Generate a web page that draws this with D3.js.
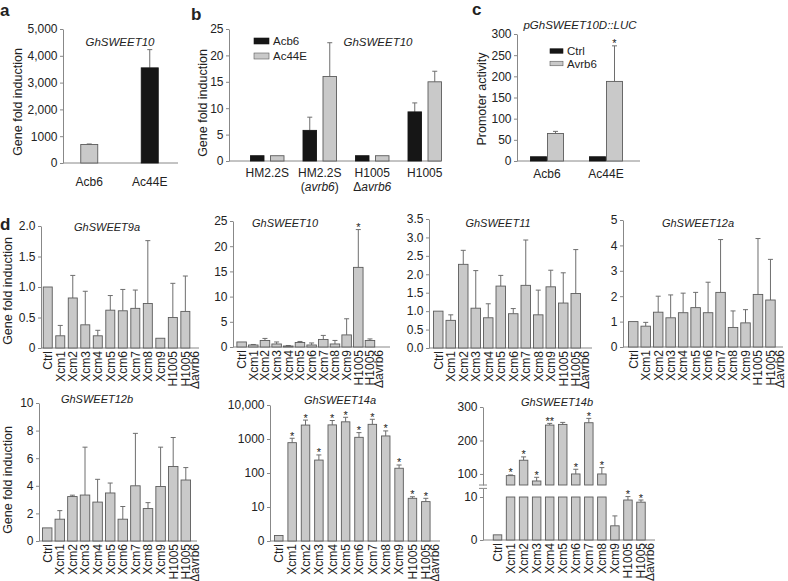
<!DOCTYPE html>
<html>
<head>
<meta charset="utf-8">
<script src="https://cdn.jsdelivr.net/npm/d3@7"></script>
<style>
  body { margin: 0; background: #fff; }
  text { font-family: "Liberation Sans", Arial, sans-serif; fill: #222; }
</style>
</head>
<body>
<svg id="fig" width="788" height="581"></svg>
<script>
// ---- data ----
// panel a
const aCats = ["Acb6", "Ac44E"];
const aVals = [690, 3550];
const aErr = [710, 4230];
const aTicks = [0, 1000, 2000, 3000, 4000, 5000];
const aTickLabels = ["0", "1000", "2,000", "3,000", "4,000", "5,000"];

// panel b
const bCats = ["HM2.2S", "HM2.2S\n(avrb6)", "H1005\nΔavrb6", "H1005"];
const bSeries = ["Acb6", "Ac44E"];
const bAcb6 = [1, 5.8, 1, 9.3];
const bAcb6Err = [null, 8.3, null, 11];
const bAc44E = [1, 16, 1, 15];
const bAc44EErr = [null, 22.4, null, 17];

// panel c
const cCats = ["Acb6", "Ac44E"];
const cSeries = ["Ctrl", "Avrb6"];
const cCtrl = [10, 10];
const cAvrb6 = [65, 188];
const cAvrb6Err = [70, 272];
const cAvrb6Stars = ["", "*"];

// panel d
const dCats = ["Ctrl", "Xcm1", "Xcm2", "Xcm3", "Xcm4", "Xcm5", "Xcm6", "Xcm7", "Xcm8", "Xcm9", "H1005", "H1005\nΔavrb6"];
const sweet9a = [1.0, 0.2, 0.82, 0.38, 0.2, 0.62, 0.61, 0.65, 0.73, 0.16, 0.5, 0.6];
const sweet9aErr = [null, 0.37, 1.19, 0.93, 0.29, 0.86, 0.96, 0.95, 1.76, null, 1.06, 1.18];
const sweet10 = [1.0, 0.4, 1.3, 0.6, 0.2, 0.9, 0.4, 1.5, 0.6, 2.4, 15.8, 1.3];
const sweet10Err = [null, 0.5, 1.7, 1.0, 0.3, 1.1, 0.8, 2.3, 1.3, 5.6, 23.3, 1.6];
const sweet10Stars = ["", "", "", "", "", "", "", "", "", "", "*", ""];
const sweet11 = [1.0, 0.75, 2.27, 1.08, 0.82, 1.68, 0.93, 1.7, 0.9, 1.66, 1.22, 1.48];
const sweet11Err = [null, 0.9, 2.65, 2.1, 1.2, 1.97, 1.07, 2.93, 1.57, 2.11, 2.04, 2.67];
const sweet12a = [1.0, 0.82, 1.37, 1.15, 1.35, 1.55, 1.35, 2.15, 0.77, 0.95, 2.07, 1.85];
const sweet12aErr = [null, 0.97, 2.0, 2.05, 2.12, 2.15, 2.55, 4.23, 1.42, 1.47, 4.27, 3.45];
const sweet12b = [0.95, 1.58, 3.22, 3.33, 2.82, 3.48, 1.58, 4.0, 2.35, 3.95, 5.4, 4.42];
const sweet12bErr = [null, 2.2, 3.32, 6.8, 4.47, 4.2, 2.5, 7.8, 2.78, 6.8, 7.5, 5.32];
const sweet14a = [1.45, 780, 2570, 240, 2600, 3200, 1120, 2700, 1230, 138, 18, 14.4];
const sweet14aErr = [null, 1050, 3600, 340, 3500, 4350, 1540, 3800, 1730, 172, 20, 18];
const sweet14aStars = ["", "*", "*", "*", "*", "*", "*", "*", "*", "*", "*", "*"];
const sweet14aTicks = [1, 10, 100, 1000, 10000];
const sweet14aTickLabels = ["0", "10", "100", "1000", "10,000"];
const sweet14b = [1.2, 95, 141, 79, 246, 248, 100, 253, 100, 3.3, 9.3, 8.8];
const sweet14bErr = [null, 97, 151, 90, 251, 254, 114, 266, 119, 5.6, 10.1, 9.3];
const sweet14bStars = ["", "*", "*", "*", "**", "", "*", "*", "*", "", "*", "*"];

// ---- style ----
const axisCol = "#888", barFill = "#c9c9c9", barLine = "#5c5c5c", errCol = "#6e6e6e", black = "#161616";
const fontFam = '"Liberation Sans", Arial, sans-serif';

const svg = d3.select("#fig");

function yAxis(scale, xPos, ticks, fmt) {
  const g = svg.append("g").attr("transform", `translate(${xPos},0)`)
    .call(d3.axisLeft(scale).tickValues(ticks)
      .tickFormat(Array.isArray(fmt) ? (d, i) => fmt[i] : fmt)
      .tickSize(3).tickPadding(2.5).tickSizeOuter(0))
    .attr("font-family", fontFam).attr("font-size", 12);
  g.select(".domain").attr("stroke", axisCol);
  g.selectAll(".tick line").attr("stroke", axisCol);
  g.selectAll(".tick text").attr("fill", "#222");
  return g;
}

function baseLine(x0, x1, y0) {
  svg.append("line").attr("x1", x0).attr("x2", x1).attr("y1", y0).attr("y2", y0)
    .attr("stroke", axisCol);
}

function bars(x, y, cats, vals, errs, o) {
  const off = o.offset || 0, w = o.width, base = o.base || 0;
  const rows = cats.map((c, i) => ({ c, v: vals[i], e: errs ? errs[i] : null }))
    .filter(d => d.v != null);
  const cx = d => x(d.c) + x.bandwidth() / 2 + off;
  const g = svg.append("g");
  const er = rows.filter(d => d.e != null);
  g.selectAll("line.err").data(er).join("line").attr("class", "err")
    .attr("x1", cx).attr("x2", cx).attr("y1", d => y(d.v)).attr("y2", d => y(d.e))
    .attr("stroke", errCol).attr("stroke-width", 1);
  g.selectAll("line.cap").data(er).join("line").attr("class", "cap")
    .attr("x1", d => cx(d) - 2.5).attr("x2", d => cx(d) + 2.5)
    .attr("y1", d => y(d.e)).attr("y2", d => y(d.e))
    .attr("stroke", errCol).attr("stroke-width", 1);
  g.selectAll("rect").data(rows).join("rect")
    .attr("x", d => cx(d) - w / 2).attr("y", d => y(d.v))
    .attr("width", w).attr("height", d => y(base) - y(d.v))
    .attr("fill", o.fill || barFill).attr("stroke", o.stroke || barLine).attr("stroke-width", 0.9);
}

function stars(x, y, cats, tops, marks, off) {
  const rows = cats.map((c, i) => ({ c, t: tops[i], m: marks[i] })).filter(d => d.m && d.t != null);
  svg.append("g").selectAll("text").data(rows).join("text")
    .attr("x", d => x(d.c) + x.bandwidth() / 2 + (off || 0))
    .attr("y", d => y(d.t) + 1.5)
    .attr("text-anchor", "middle").attr("font-size", 11).text(d => d.m);
}

function richLine(parent, str, italic) {
  str.split(/(avrb6)/).filter(s => s).forEach(p => {
    parent.append("tspan").attr("font-style", italic && p === "avrb6" ? "italic" : null).text(p);
  });
}

function xLabels(x, y0, gap, italic) {
  const g = svg.append("g").attr("transform", `translate(0,${y0})`)
    .call(d3.axisBottom(x).tickSize(0).tickFormat(() => ""))
    .attr("font-family", fontFam).attr("font-size", 12);
  g.select(".domain").remove();
  g.selectAll(".tick text").attr("y", gap).attr("dy", null).attr("fill", "#222")
    .each(function (d) {
      d.split("\n").forEach((ln, i) => {
        const ts = d3.select(this).append("tspan").attr("x", 0).attr("dy", i ? "1.17em" : 0);
        richLine(ts, ln, italic);
      });
    });
}

function xLabelsRot(x, y0) {
  const g = svg.append("g").attr("transform", `translate(0,${y0})`)
    .call(d3.axisBottom(x).tickSize(0).tickFormat(() => ""))
    .attr("font-family", fontFam).attr("font-size", 12);
  g.select(".domain").remove();
  g.selectAll(".tick text").attr("transform", "rotate(-90)").attr("text-anchor", "end")
    .attr("y", 0).attr("dy", null).attr("fill", "#222")
    .each(function (d) {
      d.split("\n").forEach((ln, i) => {
        d3.select(this).append("tspan").attr("x", -3).attr("dy", i ? "0.74em" : "0.36em").text(ln);
      });
    });
}

function yTitle(x, y, txt) {
  svg.append("text").attr("transform", `translate(${x},${y}) rotate(-90)`)
    .attr("text-anchor", "middle").attr("dy", "0.35em").attr("font-size", 12.5).text(txt);
}

function title(x, y, txt, size) {
  svg.append("text").attr("x", x).attr("y", y).attr("text-anchor", "middle")
    .attr("font-style", "italic").attr("font-size", size || 11.5).text(txt);
}

function letter(x, y, txt) {
  svg.append("text").attr("x", x).attr("y", y).attr("font-weight", "bold").attr("font-size", 17).text(txt);
}

function legend(x0, y0, step, names, fills, size) {
  const g = svg.append("g");
  const rows = names.map((n, i) => ({ n, f: fills[i], i }));
  g.selectAll("rect").data(rows).join("rect")
    .attr("x", x0).attr("y", d => y0 + d.i * step - size[1] / 2)
    .attr("width", size[0]).attr("height", size[1])
    .attr("fill", d => d.f).attr("stroke", d => d.f === black ? black : barLine).attr("stroke-width", 0.6);
  g.selectAll("text").data(rows).join("text")
    .attr("x", x0 + size[0] + 4).attr("y", d => y0 + d.i * step).attr("dy", "0.36em")
    .attr("font-size", 11.5).text(d => d.n);
}

// ---- panel a ----
{
  const y = d3.scaleLinear().domain([0, 5000]).range([163, 29]);
  const x = d3.scaleBand().domain(aCats).range([59, 180]);
  yAxis(y, 63, aTicks, aTickLabels);
  baseLine(63, 178, y(0));
  bars(x, y, aCats.slice(0, 1), aVals.slice(0, 1), aErr.slice(0, 1), { width: 17 });
  bars(x, y, aCats.slice(1), aVals.slice(1), aErr.slice(1), { width: 17, fill: black, stroke: black });
  xLabels(x, y(0), 23, false);
  yTitle(18, 102, "Gene fold induction");
  title(120, 46, "GhSWEET10");
  letter(0, 16, "a");
}

// ---- panel b ----
{
  const y = d3.scaleLinear().domain([0, 25]).range([161, 29]);
  const x = d3.scaleBand().domain(bCats).range([241, 451]);
  yAxis(y, 229, d3.range(0, 26, 5), d3.format("d"));
  baseLine(229, 441, y(0));
  bars(x, y, bCats, bAcb6, bAcb6Err, { width: 13.5, offset: -10, fill: black, stroke: black });
  bars(x, y, bCats, bAc44E, bAc44EErr, { width: 13.5, offset: 10 });
  xLabels(x, y(0), 15.5, true);
  yTitle(203, 103, "Gene fold induction");
  title(378, 46, "GhSWEET10");
  legend(254, 41, 15, bSeries, [black, barFill], [15, 6]);
  letter(191, 20, "b");
}

// ---- panel c ----
{
  const y = d3.scaleLinear().domain([0, 300]).range([161, 34]);
  const x = d3.scaleBand().domain(cCats).range([517.5, 635.5]);
  yAxis(y, 517, d3.range(0, 301, 50), d3.format("d"));
  baseLine(517, 640, y(0));
  bars(x, y, cCats, cCtrl, null, { width: 16, offset: -8.5, fill: black, stroke: black });
  bars(x, y, cCats, cAvrb6, cAvrb6Err, { width: 16, offset: 8.5 });
  stars(x, y, cCats, cAvrb6Err, cAvrb6Stars, 8.5);
  xLabels(x, y(0), 16.5, false);
  yTitle(482, 99, "Promoter activity");
  title(580, 29, "pGhSWEET10D::LUC");
  legend(550, 51, 12.5, cSeries, [black, barFill], [13, 4.5]);
  letter(472, 15, "c");
}

// ---- panel d ----
function dPanel(o) {
  const x = d3.scaleBand().domain(dCats).range(o.band);
  yAxis(o.y, o.axisX, o.ticks, o.fmt);
  baseLine(o.axisX, o.xEnd, o.y.range()[0]);
  bars(x, o.y, dCats, o.vals, o.errs, { width: o.barW, base: o.base });
  if (o.stars) stars(x, o.y, dCats, o.errs.map((e, i) => e != null ? e : o.vals[i]), o.stars);
  xLabelsRot(x, o.y.range()[0]);
  title(o.title[0], o.title[1], o.title[2], 11);
  return x;
}

dPanel({
  y: d3.scaleLinear().domain([0, 2]).range([348, 226]), axisX: 41, xEnd: 199, band: [41.5, 191.6], barW: 9,
  ticks: [0, 0.5, 1, 1.5, 2], fmt: ["0", "0.5", "1.0", "1.5", "2.0"],
  vals: sweet9a, errs: sweet9aErr, title: [107, 231, "GhSWEET9a"]
});
dPanel({
  y: d3.scaleLinear().domain([0, 25]).range([347, 221]), axisX: 233, xEnd: 390, band: [235.8, 375.8], barW: 9.5,
  ticks: d3.range(0, 26, 5), fmt: d3.format("d"),
  vals: sweet10, errs: sweet10Err, stars: sweet10Stars, title: [285, 227, "GhSWEET10"]
});
dPanel({
  y: d3.scaleLinear().domain([0, 3.5]).range([348, 219]), axisX: 429, xEnd: 592, band: [432, 582], barW: 9.5,
  ticks: d3.range(0, 3.6, 0.5), fmt: d3.format(".1f"),
  vals: sweet11, errs: sweet11Err, title: [498, 227, "GhSWEET11"]
});
dPanel({
  y: d3.scaleLinear().domain([0, 5]).range([347, 220]), axisX: 623, xEnd: 783, band: [627, 776.7], barW: 9.5,
  ticks: d3.range(0, 6), fmt: d3.format("d"),
  vals: sweet12a, errs: sweet12aErr, title: [698, 227, "GhSWEET12a"]
});
dPanel({
  y: d3.scaleLinear().domain([0, 10]).range([541, 403]), axisX: 39, xEnd: 197, band: [40.9, 192.1], barW: 9.5,
  ticks: d3.range(0, 11, 2), fmt: d3.format("d"),
  vals: sweet12b, errs: sweet12bErr, title: [97, 403, "GhSWEET12b"]
});
dPanel({
  y: d3.scaleLog().domain([1, 10000]).range([541, 405]), axisX: 270, xEnd: 440, band: [272.1, 432.5], barW: 8.5,
  ticks: sweet14aTicks, fmt: sweet14aTickLabels, base: 1,
  vals: sweet14a, errs: sweet14aErr, stars: sweet14aStars, title: [340, 404, "GhSWEET14a"]
});

// GhSWEET14b with broken axis
{
  const lowMax = 12, lowCap = 10, highMin = 67;
  const yLo = d3.scaleLinear().domain([0, lowMax]).range([540, 488.4]);
  const yHi = d3.scaleLinear().domain([highMin, 300]).range([485, 407]);
  const x = d3.scaleBand().domain(dCats).range([491, 647.5]);
  const axisX = 483;
  yAxis(yHi, axisX, [100, 200, 300], d3.format("d"));
  yAxis(yLo, axisX, [0, 10], d3.format("d"));
  [yHi.range()[0], yLo.range()[1]].forEach(yy =>
    svg.append("line").attr("x1", axisX - 4).attr("x2", axisX + 4).attr("y1", yy).attr("y2", yy).attr("stroke", axisCol));
  baseLine(axisX, 655, yLo(0));
  const isHigh = sweet14b.map(v => v > lowMax);
  bars(x, yLo, dCats, sweet14b.map(v => Math.min(v, lowCap)),
    sweet14bErr.map((e, i) => isHigh[i] ? null : e), { width: 8.5 });
  const hiCats = dCats.filter((c, i) => isHigh[i]);
  const hiVals = sweet14b.filter((v, i) => isHigh[i]);
  const hiErr = sweet14bErr.filter((v, i) => isHigh[i]);
  bars(x, yHi, hiCats, hiVals, hiErr, { width: 8.5, base: highMin });
  stars(x, yHi, hiCats, hiErr, sweet14bStars.filter((s, i) => isHigh[i]));
  stars(x, yLo, dCats.filter((c, i) => !isHigh[i]), sweet14bErr.filter((e, i) => !isHigh[i]),
    sweet14bStars.filter((s, i) => !isHigh[i]));
  xLabelsRot(x, yLo(0));
  title(557, 406, "GhSWEET14b", 11);
}

yTitle(8, 291, "Gene fold induction");
yTitle(8, 480, "Gene fold induction");
letter(0, 230, "d");
</script>
</body>
</html>
